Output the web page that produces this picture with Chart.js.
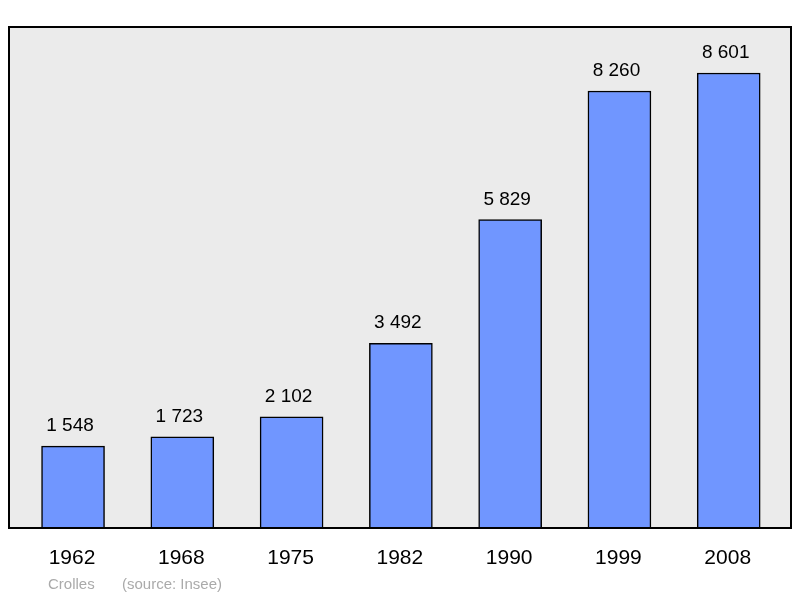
<!DOCTYPE html>
<html><head><meta charset="utf-8">
<script src="https://cdn.jsdelivr.net/npm/chart.js@4"></script>
<style>html,body{margin:0;padding:0;background:#fff}#w{width:800px;height:598px}</style>
</head><body><div id="w"><canvas id="c"></canvas></div>
<script>
const years = ["1962","1968","1975","1982","1990","1999","2008"];
const population = [1548,1723,2102,3492,5829,8260,8601];
const footerName = "Crolles";
const footerSource = "(source: Insee)";
const fmt = v => String(v).replace(/\B(?=(\d{3})+(?!\d))/g, " ");

const deco = {
  id:'deco',
  beforeDatasetsDraw(ch){
    const {ctx, chartArea:a} = ch;
    ctx.save(); ctx.fillStyle='#ebebeb';
    ctx.fillRect(a.left,a.top,a.right-a.left,a.bottom-a.top); ctx.restore();
  },
  afterDatasetsDraw(ch){
    const {ctx, chartArea:a} = ch;
    const xs = ch.scales.x, ys = ch.scales.y;
    ctx.save();
    ctx.strokeStyle='#000'; ctx.lineWidth=2;
    ctx.strokeRect(a.left,a.top,a.right-a.left,a.bottom-a.top);
    ctx.fillStyle='#000'; ctx.textAlign='center';
    ctx.font='19px "Liberation Sans", Arial, sans-serif'; ctx.textBaseline='alphabetic';
    population.forEach((v,i)=>{
      ctx.fillText(fmt(v), xs.getPixelForValue(i)-3, ys.getPixelForValue(v)-15);
    });
    ctx.font='21px "Liberation Sans", Arial, sans-serif';
    years.forEach((y,i)=>ctx.fillText(y, xs.getPixelForValue(i)-1, 564));
    ctx.fillStyle='#aaaaaa'; ctx.textAlign='left';
    ctx.font='15px "Liberation Sans", Arial, sans-serif';
    ctx.fillText(footerName, 48, 589);
    ctx.fillText(footerSource, 122, 589);
    ctx.restore();
  }
};

new Chart(document.getElementById('c'), {
  type:'bar',
  data:{datasets:[{data:population.map((v,i)=>({x:i,y:v})),
    backgroundColor:'#7096ff', borderColor:'#000', borderWidth:1.5, barThickness:63}]},
  options:{
    responsive:true, maintainAspectRatio:false, animation:false,
    layout:{padding:{left:9,top:27,right:9,bottom:70}},
    plugins:{legend:{display:false},tooltip:{enabled:false}},
    scales:{
      x:{type:'linear', min:-0.586, max:6.57, display:false, offset:false},
      y:{min:0, max:9470, display:false}
    }
  },
  plugins:[deco]
});
</script></body></html>
